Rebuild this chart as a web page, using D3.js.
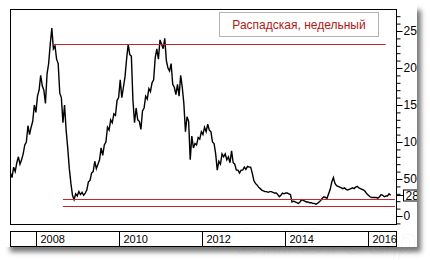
<!DOCTYPE html>
<html>
<head>
<meta charset="utf-8">
<script src="https://d3js.org/d3.v7.min.js"></script>
<style>
  body { margin: 0; background: #fff; }
  text { font-family: "Liberation Sans", Arial, sans-serif; }
</style>
</head>
<body>
<div id="my_dataviz"></div>
<script>

// weekly chart, sampled every two weeks from the first date
var firstDate = "2007-05-21";
var stepDays = 14;
var prices = [
  58, 52, 66, 60, 72, 80, 70, 76, 84, 96,
  100, 122, 110, 120, 128, 150, 140, 162, 170, 190,
  176, 170, 152, 192, 206, 232, 254, 226, 230, 212,
  206, 166, 160, 126, 150, 116, 92, 64, 44, 28,
  22, 30, 27, 33, 29, 32, 28, 31, 35, 46,
  48, 58, 60, 74, 64, 70, 76, 92, 82, 96,
  100, 120, 116, 130, 126, 138, 136, 156, 160, 184,
  160, 174, 188, 212, 232, 218, 216, 156, 126, 146,
  130, 128, 117, 142, 146, 162, 158, 172, 168, 180,
  184, 214, 226, 212, 238, 232, 226, 240, 210, 200,
  196, 206, 178, 174, 164, 178, 162, 190, 174, 152,
  114, 134, 128, 76, 108, 92, 98, 96, 106, 104,
  114, 110, 120, 114, 124, 116, 114, 100, 98, 84,
  62, 74, 70, 84, 80, 84, 76, 80, 72, 88,
  72, 70, 62, 62, 58, 62, 62, 66, 63, 67,
  66, 66, 58, 48, 44, 42, 39, 37, 35, 34,
  33, 33, 32, 33, 33, 32, 31, 31, 29, 26,
  28, 31, 30, 31, 31, 30, 29, 19, 20, 19,
  18, 17, 19, 22, 21, 20, 19, 19, 18, 18,
  17, 17, 16, 17, 19, 21, 24, 26, 25, 24,
  30, 36, 46, 52, 44, 41, 40, 39, 38, 37,
  38, 36, 35, 36, 37, 38, 37, 39, 40, 38,
  37, 36, 35, 33, 30, 28, 26, 25, 25, 25,
  25, 24, 26, 29, 28, 26, 27, 27, 30, 28
];
var lastLabel = "28";

var yearTicks = [2008, 2010, 2012, 2014, 2016];
var majorTicks = [0, 50, 100, 150, 200, 250];

// red levels: [value, from, to]
var levels = [
  [232, "2008-05-30", "2016-06-05"],
  [23, "2008-08-25", "2016-08-25"],
  [14, "2008-08-25", "2016-08-25"]
];
var title = "Распадская, недельный";

var W = 430, H = 260;
var plot = {left: 10, top: 9, right: 396, bottom: 224};

var parse = d3.timeParse("%Y-%m-%d");
var start = parse(firstDate);
var data = prices.map(function(v, i) {
  return {date: d3.timeDay.offset(start, i * stepDays), value: v};
});

var svg = d3.select("#my_dataviz")
  .append("svg")
    .attr("width", W)
    .attr("height", H);

var defs = svg.append("defs");
defs.append("filter").attr("id", "blur")
  .attr("x", "-10%").attr("y", "-10%").attr("width", "120%").attr("height", "120%")
  .append("feGaussianBlur").attr("stdDeviation", 2.5);
defs.append("clipPath").attr("id", "panelclip")
  .append("rect").attr("x", 0).attr("y", 0).attr("width", 417).attr("height", H);
defs.append("clipPath").attr("id", "plotclip")
  .append("rect").attr("x", plot.left).attr("y", plot.top)
    .attr("width", plot.right - plot.left).attr("height", plot.bottom - plot.top);

// panel with drop shadow
svg.append("rect")
  .attr("x", 10).attr("y", 10).attr("width", 411).attr("height", 242)
  .attr("fill", "#777").attr("filter", "url(#blur)");
svg.append("rect")
  .attr("x", 2).attr("y", 2).attr("width", 415).attr("height", 245)
  .attr("fill", "#fff");

// faint watermark
svg.append("text")
  .attr("x", 236).attr("y", 254)
  .attr("font-size", 36).attr("font-style", "italic").attr("font-weight", "bold")
  .attr("fill", "none").attr("stroke", "#000").attr("stroke-opacity", 0.05)
  .attr("letter-spacing", 3)
  .text("SMGroup");

var x = d3.scaleTime()
  .domain([parse("2007-05-17"), parse("2016-09-03")])
  .range([plot.left, plot.right]);

var y = d3.scaleLinear()
  .domain([0, 250])
  .range([216, 31]);

// plot frame
svg.append("rect")
  .attr("x", plot.left + 0.5).attr("y", plot.top + 0.5)
  .attr("width", plot.right - plot.left).attr("height", plot.bottom - plot.top)
  .attr("fill", "none").attr("stroke", "#000");

// price line
svg.append("path")
  .datum(data)
  .attr("clip-path", "url(#plotclip)")
  .attr("fill", "none")
  .attr("stroke", "#000")
  .attr("stroke-width", 1.4)
  .attr("d", d3.line()
    .x(function(d) { return x(d.date); })
    .y(function(d) { return y(d.value); }));

// red levels
svg.append("g")
  .selectAll("line")
  .data(levels)
  .enter()
  .append("line")
    .attr("x1", function(d) { return x(parse(d[1])); })
    .attr("x2", function(d) { return x(parse(d[2])); })
    .attr("y1", function(d) { return Math.round(y(d[0])) + 0.5; })
    .attr("y2", function(d) { return Math.round(y(d[0])) + 0.5; })
    .attr("stroke", "#c0262b")
    .attr("stroke-width", 1);

// right axis, clipped by panel edge
var axisG = svg.append("g").attr("clip-path", "url(#panelclip)");

var minor = d3.range(-10, 280, 10).filter(function(v) { return v % 50 !== 0; });
axisG.append("g")
  .attr("transform", "translate(" + (plot.right + 0.5) + ",0)")
  .call(d3.axisRight(y).tickValues(minor).tickSize(4).tickFormat(""))
  .call(function(g) { g.select(".domain").remove(); });

axisG.append("g")
  .attr("transform", "translate(" + (plot.right + 0.5) + ",0)")
  .call(d3.axisRight(y).tickValues(majorTicks).tickSize(6).tickPadding(1).tickFormat(d3.format("d")))
  .call(function(g) {
    g.select(".domain").remove();
    g.selectAll("text").attr("font-size", 12).attr("fill", "#000")
      .attr("font-family", "'Liberation Sans', Arial, sans-serif");
  });

// last value box
var lastY = Math.round(y(prices[prices.length - 1])) + 0.5;
axisG.append("line")
  .attr("x1", plot.right).attr("x2", 403)
  .attr("y1", lastY).attr("y2", lastY)
  .attr("stroke", "#000");
axisG.append("rect")
  .attr("x", 403.5).attr("y", lastY - 5.5)
  .attr("width", 14).attr("height", 11)
  .attr("fill", "#fff").attr("stroke", "#000");
axisG.append("text")
  .attr("x", 405.5).attr("y", lastY + 4.5)
  .attr("font-size", 12)
  .text(lastLabel);

// date bar
var bar = {top: 231, bottom: 246};
svg.append("rect")
  .attr("x", plot.left + 0.5).attr("y", bar.top + 0.5)
  .attr("width", plot.right - plot.left).attr("height", bar.bottom - bar.top)
  .attr("fill", "#fff").attr("stroke", "#000");

var yearG = svg.append("g")
  .selectAll("g")
  .data(yearTicks)
  .enter()
  .append("g")
    .attr("transform", function(d) {
      return "translate(" + (Math.round(x(new Date(d, 0, 1))) + 0.5) + ",0)";
    });
yearG.append("line")
  .attr("y1", bar.top).attr("y2", bar.bottom)
  .attr("stroke", "#000");
yearG.append("text")
  .attr("x", 4).attr("y", bar.top + 12)
  .attr("font-size", 11)
  .text(function(d) { return d; });

// title box
svg.append("rect")
  .attr("x", 219.5).attr("y", 12.5)
  .attr("width", 159).attr("height", 24)
  .attr("fill", "#fff").attr("stroke", "#b4b4b4");
svg.append("text")
  .attr("x", 299).attr("y", 29)
  .attr("text-anchor", "middle")
  .attr("font-size", 12)
  .attr("fill", "#b01818")
  .text(title);

</script>
</body>
</html>
